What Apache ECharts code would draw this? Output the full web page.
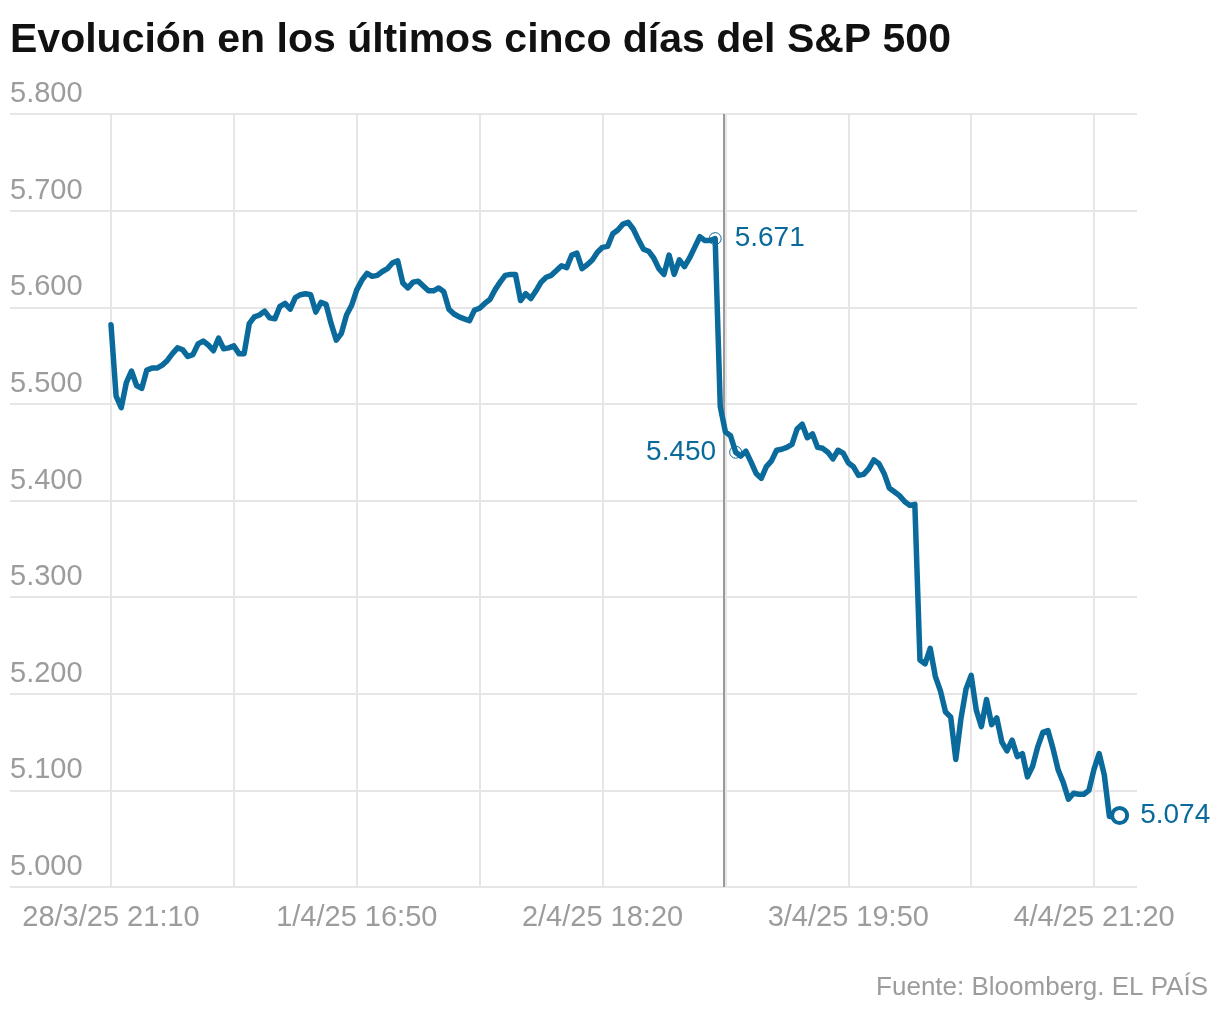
<!DOCTYPE html>
<html>
<head>
<meta charset="utf-8">
<script src="https://cdn.jsdelivr.net/npm/echarts@6/dist/echarts.min.js"></script>
<style>
html,body{margin:0;padding:0;background:#fff;}
#chart{width:1220px;height:1014px;}
</style>
</head>
<body>
<div id="chart"></div>
<script>
// Tick labels of the x axis (one every 48 readings)
const timeLabels = ['28/3/25 21:10', '1/4/25 16:50', '2/4/25 18:20', '3/4/25 19:50', '4/4/25 21:20'];
const labelStep = 48;

// S&P 500 readings
const spx = [
  5582, 5508, 5496, 5522, 5534, 5519, 5516, 5535, 5537, 5537,
  5540, 5545, 5552, 5558, 5556, 5549, 5551, 5562, 5565, 5561,
  5555, 5568, 5557, 5558, 5560, 5552, 5552, 5583, 5590, 5592,
  5596, 5589, 5588, 5601, 5604, 5598, 5610, 5613, 5614, 5613,
  5595, 5605, 5603, 5583, 5566, 5573, 5592, 5602, 5618, 5628,
  5635, 5632, 5633, 5637, 5640, 5646, 5648, 5625, 5620, 5626,
  5627, 5622, 5617, 5617, 5620, 5616, 5598, 5593, 5590, 5588,
  5586, 5597, 5599, 5604, 5608, 5618, 5626, 5633, 5634, 5634,
  5607, 5614, 5609, 5617, 5626, 5631, 5633, 5638, 5643, 5641,
  5654, 5656, 5640, 5644, 5649, 5657, 5662, 5663, 5676, 5680,
  5686, 5688, 5681, 5670, 5660, 5658, 5651, 5640, 5634, 5654,
  5634, 5649, 5642, 5651, 5662, 5673, 5669, 5669, 5671, 5497,
  5471, 5467, 5450, 5446, 5451, 5440, 5428, 5423, 5435, 5441,
  5452, 5453, 5455, 5458, 5474, 5479, 5465, 5469, 5455, 5454,
  5450, 5443, 5452, 5449, 5439, 5435, 5426, 5427, 5433, 5442,
  5438, 5428, 5413, 5409, 5405, 5399, 5395, 5396, 5235, 5231,
  5247, 5218, 5203, 5181, 5176, 5132, 5174, 5205, 5219, 5183,
  5166, 5194, 5168, 5175, 5150, 5141, 5152, 5135, 5138, 5114,
  5125, 5145, 5160, 5162, 5143, 5121, 5108, 5091, 5097, 5096,
  5096, 5100, 5122, 5138, 5116, 5073, 5073, 5074
];

// Annotated readings (index into spx) and the session break marker
const annotIdx = [118, 122, 197];
const annotSide = ['right', 'left', 'right'];
const breakIdx = 119.6;

const yTicks = [5000, 5800, 100];

const BLUE = '#0a6a9b';
const GRAY = '#9c9c9c';
const GRID = '#e6e6e6';
const FONT = '"Liberation Sans", Arial, sans-serif';

function fmt(v) {
  const s = Math.round(v).toString();
  return s.length > 3 ? s.slice(0, -3) + '.' + s.slice(-3) : s;
}

const lineData = spx.map((v, i) => [i, v]);
const annotData = annotIdx.map((idx, k) => {
  const last = k === annotIdx.length - 1;
  return {
    value: [idx, spx[idx]],
    symbolSize: last ? 15 : 12,
    itemStyle: last
      ? { color: '#fff', borderColor: BLUE, borderWidth: 4, opacity: 1 }
      : { color: 'rgba(255,255,255,0)', borderColor: BLUE, borderWidth: 1, opacity: 1 },
    label: {
      show: true,
      position: annotSide[k],
      distance: last ? 11 : 13,
      formatter: fmt(spx[idx]),
      color: BLUE,
      fontSize: 28,
      fontFamily: FONT
    }
  };
});

const chart = echarts.init(document.getElementById('chart'), null, { renderer: 'canvas' });
chart.setOption({
  animation: false,
  backgroundColor: '#fff',
  title: [
    {
      text: 'Evolución en los últimos cinco días del S&P 500',
      left: 5, top: 15,
      textStyle: { fontFamily: FONT, fontWeight: 'bold', fontSize: 41, color: '#111', lineHeight: 42 }
    },
    {
      text: 'Fuente: Bloomberg. EL PAÍS',
      right: 7, top: 970,
      textStyle: { fontFamily: FONT, fontWeight: 'normal', fontSize: 26, color: GRAY }
    }
  ],
  grid: [
    { left: 10, right: 83, top: 114, bottom: 127 },
    { left: 111, right: 85, top: 114, bottom: 127 }
  ],
  xAxis: [
    { gridIndex: 0, type: 'value', min: 0, max: 1, show: false },
    {
      gridIndex: 1, type: 'value', min: 0, max: 200, interval: 24,
      axisLine: { show: false }, axisTick: { show: false },
      splitLine: { show: true, showMinLine: true, showMaxLine: false, lineStyle: { color: GRID, width: 2 } },
      axisLabel: {
        margin: 16, fontSize: 29, fontFamily: FONT, color: GRAY, showMaxLabel: false,
        formatter: v => (v % labelStep === 0 && v / labelStep < timeLabels.length) ? timeLabels[v / labelStep] : ''
      }
    }
  ],
  yAxis: [
    {
      gridIndex: 0, type: 'value', min: yTicks[0], max: yTicks[1], interval: yTicks[2],
      axisLine: { show: false }, axisTick: { show: false },
      splitLine: { show: true, lineStyle: { color: GRID, width: 2 } },
      axisLabel: {
        inside: true, margin: 0, align: 'left', verticalAlign: 'bottom',
        lineHeight: 30, padding: [0, 0, 5, 0],
        fontSize: 29, fontFamily: FONT, color: GRAY, formatter: fmt
      }
    },
    { gridIndex: 1, type: 'value', min: yTicks[0], max: yTicks[1], interval: yTicks[2], show: false, splitLine: { show: false } }
  ],
  series: [
    {
      type: 'line', xAxisIndex: 1, yAxisIndex: 1, data: lineData,
      symbol: 'none', smooth: false,
      lineStyle: { color: BLUE, width: 5.5, join: 'round', cap: 'round' },
      markLine: {
        silent: true, symbol: ['none', 'none'], label: { show: false },
        lineStyle: { color: '#999', width: 2, type: 'solid' },
        data: [{ xAxis: breakIdx }],
        z: 1
      },
      z: 3
    },
    {
      type: 'scatter', xAxisIndex: 1, yAxisIndex: 1, data: annotData,
      symbol: 'circle', z: 5, silent: true,
      itemStyle: { opacity: 1 }
    }
  ]
});
</script>
</body>
</html>
